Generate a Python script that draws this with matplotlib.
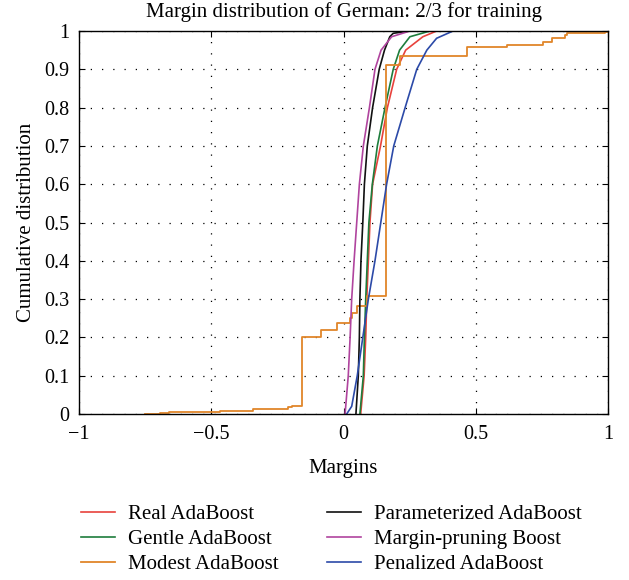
import matplotlib
matplotlib.use("Agg")
import matplotlib.pyplot as plt

plt.rcParams['font.family'] = ['Liberation Serif', 'DejaVu Serif']

title = "Margin distribution of German: 2/3 for training"
xlabel = "Margins"
ylabel = "Cumulative distribution"

# smooth CDF curves: (margin, cumulative)
real_x = [0.065, 0.078, 0.084, 0.088, 0.094, 0.100, 0.110, 0.140, 0.166, 0.201, 0.235, 0.300, 0.352]
real_y = [0.0, 0.1, 0.2, 0.3, 0.4, 0.5, 0.6, 0.7, 0.8, 0.9, 0.95, 0.985, 1.0]
gentle_x = [0.062, 0.075, 0.079, 0.084, 0.090, 0.096, 0.109, 0.128, 0.157, 0.188, 0.212, 0.251, 0.327]
gentle_y = [0.0, 0.1, 0.2, 0.3, 0.4, 0.5, 0.6, 0.7, 0.8, 0.9, 0.95, 0.985, 1.0]
param_x = [0.047, 0.056, 0.060, 0.062, 0.066, 0.073, 0.079, 0.090, 0.110, 0.135, 0.155, 0.175, 0.188, 0.250]
param_y = [0.0, 0.1, 0.2, 0.3, 0.4, 0.5, 0.6, 0.7, 0.8, 0.9, 0.95, 0.985, 0.994, 1.0]
margin_x = [0.006, 0.018, 0.025, 0.031, 0.040, 0.050, 0.060, 0.075, 0.098, 0.119, 0.142, 0.182, 0.251]
margin_y = [0.0, 0.1, 0.2, 0.3, 0.4, 0.5, 0.6, 0.7, 0.8, 0.9, 0.95, 0.985, 1.0]
penal_x = [0.012, 0.031, 0.052, 0.073, 0.094, 0.119, 0.141, 0.163, 0.190, 0.233, 0.277, 0.315, 0.352, 0.414]
penal_y = [0.0, 0.02, 0.1, 0.2, 0.3, 0.4, 0.5, 0.6, 0.7, 0.8, 0.9, 0.95, 0.981, 1.0]

# Modest AdaBoost step function: step positions and levels
modest_x = [-0.75, -0.694, -0.66, -0.467, -0.342, -0.21, -0.195, -0.157, -0.086, -0.026,
            0.024, 0.031, 0.05, 0.09, 0.161, 0.214, 0.468, 0.617, 0.754, 0.79, 0.837,
            0.844, 0.99, 1.0]
modest_y = [0.0, 0.003, 0.005, 0.008, 0.012, 0.018, 0.022, 0.2, 0.22, 0.238,
            0.251, 0.265, 0.282, 0.309, 0.911, 0.935, 0.959, 0.963, 0.972, 0.981, 0.99,
            0.996, 0.998, 1.0]

labels = ["Real AdaBoost", "Gentle AdaBoost", "Modest AdaBoost",
          "Parameterized AdaBoost", "Margin-pruning Boost", "Penalized AdaBoost"]
colors = ["#e8423c", "#1e7d3c", "#e0862a", "#111111", "#b0449e", "#2c4aa8"]

xticks = [-1, -0.5, 0, 0.5, 1]
xticklabels = ["\u22121", "\u22120.5", "0", "0.5", "1"]
yticks = [0, 0.1, 0.2, 0.3, 0.4, 0.5, 0.6, 0.7, 0.8, 0.9, 1]
yticklabels = ["0", "0.1", "0.2", "0.3", "0.4", "0.5", "0.6", "0.7", "0.8", "0.9", "1"]

FS = 15

fig = plt.figure(figsize=(6.29, 5.80), dpi=100)
ax = fig.add_axes([79/629, (580-414)/580, (608-79)/629, (414-31)/580])

lines = []
l, = ax.plot(real_x, real_y, color=colors[0], lw=1.2); lines.append(l)
l, = ax.plot(gentle_x, gentle_y, color=colors[1], lw=1.2); lines.append(l)
l, = ax.step(modest_x, modest_y, where='post', color=colors[2], lw=1.3); lines.append(l)
l, = ax.plot(param_x, param_y, color=colors[3], lw=1.2); lines.append(l)
l, = ax.plot(margin_x, margin_y, color=colors[4], lw=1.2); lines.append(l)
l, = ax.plot(penal_x, penal_y, color=colors[5], lw=1.2); lines.append(l)

ax.set_xlim(-1, 1)
ax.set_ylim(0, 1)
ax.set_xticks(xticks)
ax.set_xticklabels(xticklabels)
ax.set_yticks(yticks)
ax.set_yticklabels(yticklabels)
ax.tick_params(direction='in', length=4, labelsize=14.5, top=True, right=True)
ax.tick_params(axis='x', pad=8)
ax.tick_params(axis='y', pad=7)
ax.grid(True, color='black', linestyle=(0, (1, 8)), linewidth=0.9)
for s in ax.spines.values():
    s.set_linewidth(1.0)

ax.set_title(title, fontsize=FS, pad=10)
ax.set_xlabel(xlabel, fontsize=FS, labelpad=11)
ax.set_ylabel(ylabel, fontsize=FS, labelpad=6)

fig.legend(lines, labels, loc='upper left', bbox_to_anchor=(62/629, 1 - 486/580),
           ncol=2, frameon=False, fontsize=FS, handlelength=1.65,
           columnspacing=2.3, labelspacing=0.25, handletextpad=0.62)

fig.savefig("out.png", dpi=100)
